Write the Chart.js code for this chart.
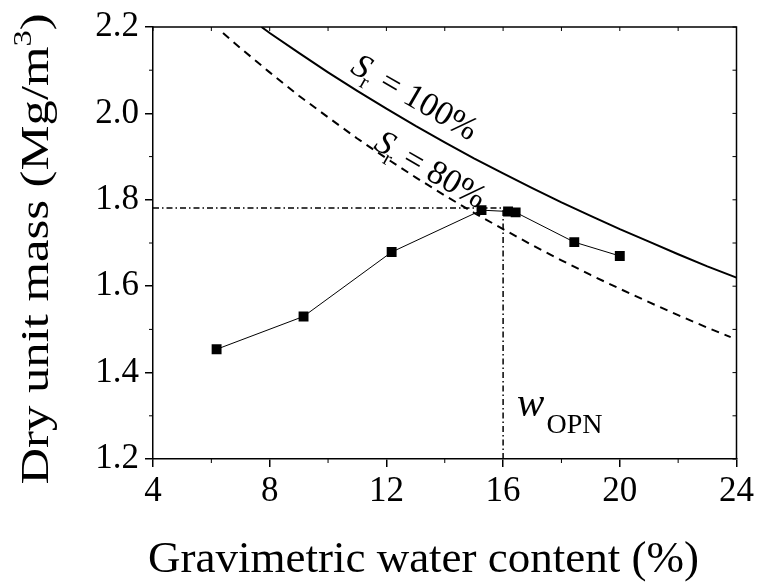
<!DOCTYPE html>
<html>
<head>
<meta charset="utf-8">
<script src="https://cdn.jsdelivr.net/npm/chart.js@4.4.0/dist/chart.umd.min.js"></script>
<style>
  body { margin: 0; background: #fff; }
</style>
</head>
<body>
<canvas id="compactionChart" width="758" height="584"></canvas>
<script>
// compaction test points (water content %, dry unit mass Mg/m3)
const waterContent = [6.18, 9.16, 12.18, 15.26, 16.17, 16.43, 18.44, 20.0];
const dryMass = [1.454, 1.530, 1.679, 1.776, 1.773, 1.771, 1.702, 1.670];

// saturation lines
const sat100W = [7.72, 8, 9, 10, 11, 12, 13, 14, 15, 16, 17, 18, 19, 20, 21, 22, 23, 24];
const sat100Rho = [2.200, 2.186, 2.140, 2.095, 2.052, 2.011, 1.971, 1.933, 1.896, 1.861, 1.827, 1.794, 1.763, 1.732, 1.703, 1.674, 1.646, 1.620];
const sat80W = [6.4, 7, 8, 9, 10, 11, 12, 13, 14, 15, 16, 17, 18, 19, 20, 21, 22, 23, 23.8];
const sat80Rho = [2.186, 2.151, 2.095, 2.041, 1.991, 1.942, 1.896, 1.852, 1.810, 1.770, 1.732, 1.695, 1.660, 1.626, 1.594, 1.563, 1.533, 1.504, 1.482];

// optimum point
const optW = 16.0;
const optRho = 1.781;

const xTicks = [4, 8, 12, 16, 20, 24];
const xMinor = [6, 10, 14, 18, 22];
const yTicks = [1.2, 1.4, 1.6, 1.8, 2.0, 2.2];
const yMinor = [1.3, 1.5, 1.7, 1.9, 2.1];

const xTitle = 'Gravimetric water content (%)';
const yTitle = ['Dry unit mass (Mg/m', '3', ')'];

const pts = (xs, ys) => xs.map((v, i) => ({ x: v, y: ys[i] }));

const serif = '"Liberation Serif", "Times New Roman", serif';
Chart.defaults.font.family = serif;
Chart.defaults.color = '#000';

function drawSatLabel(ctx, px, py, pct) {
    ctx.save();
    ctx.translate(px, py);
    ctx.rotate(30 * Math.PI / 180);
    ctx.textBaseline = 'alphabetic';
    ctx.font = 'italic 34px ' + serif;
    ctx.fillText('S', 0, 0);
    let w = ctx.measureText('S').width;
    ctx.font = '21px ' + serif;
    ctx.fillText('r', w - 2, 8);
    w += ctx.measureText('r').width;
    ctx.font = '34px ' + serif;
    ctx.fillText(' = ' + pct, w, 0);
    ctx.restore();
}

// frame, minor ticks, axis titles and the text on the plot
const extras = {
    id: 'extras',
    afterDraw(chart) {
        const { ctx, chartArea: a, scales: { x, y } } = chart;
        ctx.save();
        ctx.strokeStyle = '#000';
        ctx.lineWidth = 1.5;
        ctx.beginPath();
        ctx.moveTo(a.left, a.top); ctx.lineTo(a.right, a.top); ctx.lineTo(a.right, a.bottom);
        ctx.stroke();

        ctx.lineWidth = 1;
        ctx.beginPath();
        xMinor.forEach(v => {
            const px = x.getPixelForValue(v);
            ctx.moveTo(px, a.bottom); ctx.lineTo(px, a.bottom + 4);
        });
        xTicks.concat(xMinor).forEach(v => {
            const px = x.getPixelForValue(v);
            ctx.moveTo(px, a.top); ctx.lineTo(px, a.top + 4);
        });
        yMinor.forEach(v => {
            const py = y.getPixelForValue(v);
            ctx.moveTo(a.left, py); ctx.lineTo(a.left - 4, py);
        });
        yTicks.concat(yMinor).forEach(v => {
            const py = y.getPixelForValue(v);
            ctx.moveTo(a.right, py); ctx.lineTo(a.right - 4, py);
        });
        ctx.stroke();

        ctx.fillStyle = '#000';
        drawSatLabel(ctx, x.getPixelForValue(10.73), y.getPixelForValue(2.097), '100%');
        drawSatLabel(ctx, x.getPixelForValue(11.52), y.getPixelForValue(1.92), '80%');

        const wx = x.getPixelForValue(16.48), wy = y.getPixelForValue(1.299);
        ctx.textBaseline = 'alphabetic';
        ctx.font = 'italic 41px ' + serif;
        ctx.fillText('w', wx, wy);
        const ww = ctx.measureText('w').width;
        ctx.font = '28px ' + serif;
        ctx.fillText('OPN', wx + ww + 2, wy + 17);

        // x axis title
        ctx.font = '45px ' + serif;
        ctx.textAlign = 'left';
        ctx.fillText(xTitle, a.left - 5, a.bottom + 113);

        // y axis title, stretched along its length like the original
        ctx.save();
        ctx.translate(a.left - 105, (a.top + a.bottom) / 2 + 6);
        ctx.rotate(-Math.PI / 2);
        ctx.scale(1.3, 1);
        const big = '39px ' + serif, small = '25px ' + serif;
        ctx.font = big;
        const w0 = ctx.measureText(yTitle[0]).width;
        const w2 = ctx.measureText(yTitle[2]).width;
        ctx.font = small;
        const w1 = ctx.measureText(yTitle[1]).width;
        let sx = -(w0 + w1 + w2) / 2;
        ctx.font = big;
        ctx.fillText(yTitle[0], sx, 0);
        sx += w0;
        ctx.font = small;
        ctx.fillText(yTitle[1], sx, -17);
        sx += w1;
        ctx.font = big;
        ctx.fillText(yTitle[2], sx, 0);
        ctx.restore();

        ctx.restore();
    }
};

const ctx = document.getElementById('compactionChart').getContext('2d');
new Chart(ctx, {
    type: 'scatter',
    data: {
        datasets: [
            {
                label: 'Sr = 100%',
                data: pts(sat100W, sat100Rho),
                showLine: true, borderColor: '#000', borderWidth: 2, pointRadius: 0
            },
            {
                label: 'Sr = 80%',
                data: pts(sat80W, sat80Rho),
                showLine: true, borderColor: '#000', borderWidth: 2, borderDash: [8, 6], pointRadius: 0
            },
            {
                label: 'opt rho',
                data: pts([4, optW], [optRho, optRho]),
                showLine: true, borderColor: '#000', borderWidth: 1.5, borderDash: [6, 3, 1.5, 3], pointRadius: 0
            },
            {
                label: 'opt w',
                data: pts([optW, optW], [1.2, optRho]),
                showLine: true, borderColor: '#000', borderWidth: 1.5, borderDash: [6, 3, 1.5, 3], pointRadius: 0
            },
            {
                label: 'Compaction',
                data: pts(waterContent, dryMass),
                showLine: true, borderColor: '#000', borderWidth: 1,
                pointStyle: 'rect', pointRadius: 7, pointBackgroundColor: '#000', pointBorderWidth: 0
            }
        ]
    },
    options: {
        responsive: false,
        animation: false,
        devicePixelRatio: 1,
        layout: { padding: { top: 23, right: 20, left: 0, bottom: 0 } },
        plugins: { legend: { display: false }, tooltip: { enabled: false } },
        scales: {
            x: {
                type: 'linear', min: 4, max: 24,
                afterBuildTicks: s => { s.ticks = xTicks.map(v => ({ value: v })); },
                afterFit: s => { s.height = 125; },
                ticks: { font: { size: 35 }, color: '#000', padding: 4 },
                grid: { drawOnChartArea: false, drawTicks: true, tickLength: 8, color: '#000', lineWidth: 1.5 },
                border: { display: true, color: '#000', width: 1.5 },
                title: { display: false }
            },
            y: {
                type: 'linear', min: 1.2, max: 2.2,
                afterBuildTicks: s => { s.ticks = yTicks.map(v => ({ value: v })); },
                afterFit: s => { s.width = 153; },
                ticks: { font: { size: 35 }, color: '#000', padding: 6, callback: v => v.toFixed(1) },
                grid: { drawOnChartArea: false, drawTicks: true, tickLength: 8, color: '#000', lineWidth: 1.5 },
                border: { display: true, color: '#000', width: 1.5 },
                title: { display: false }
            }
        }
    },
    plugins: [extras]
});
</script>
</body>
</html>
